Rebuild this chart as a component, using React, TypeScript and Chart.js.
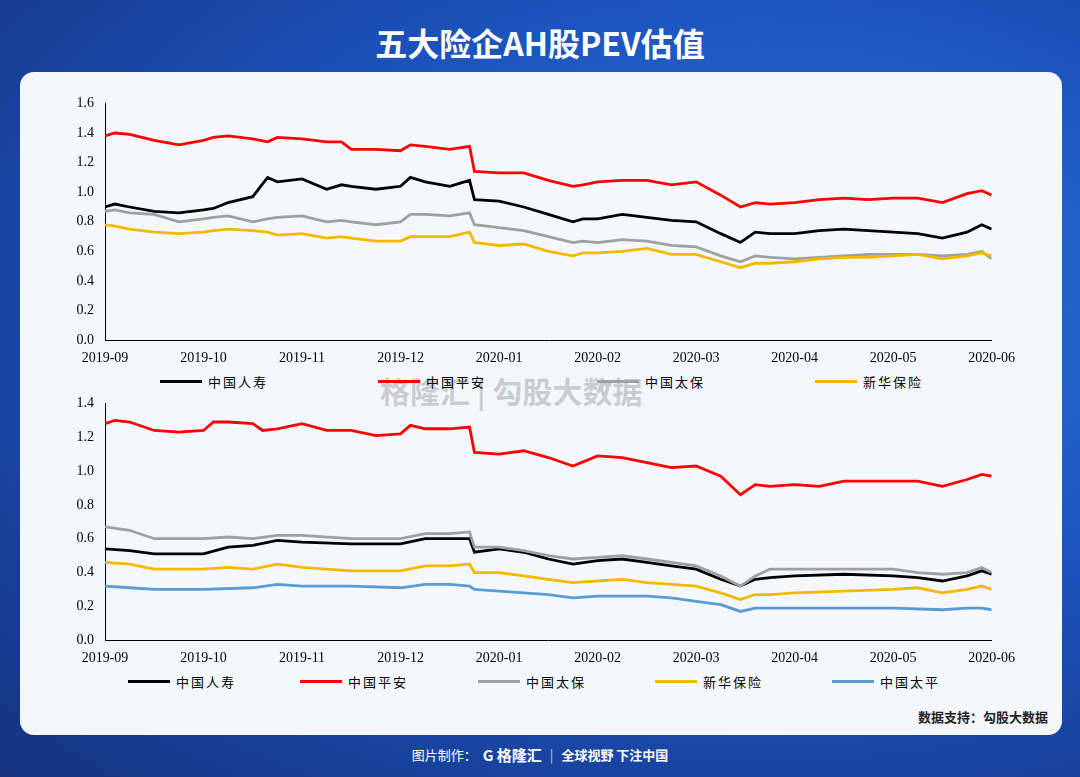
import React, { useEffect, useRef } from "react";
import { Chart, registerables } from "chart.js";
Chart.register(...registerables);

const monthLabels = ["2019-09","2019-10","2019-11","2019-12","2020-01","2020-02","2020-03","2020-04","2020-05","2020-06"];

const topPingAn = [[0,1.38],[0.1,1.4],[0.25,1.39],[0.5,1.35],[0.75,1.32],[1,1.35],[1.1,1.37],[1.25,1.38],[1.5,1.36],[1.65,1.34],[1.75,1.37],[2,1.36],[2.25,1.34],[2.4,1.34],[2.5,1.29],[2.75,1.29],[3,1.28],[3.1,1.32],[3.25,1.31],[3.5,1.29],[3.7,1.31],[3.75,1.14],[4,1.13],[4.25,1.13],[4.5,1.08],[4.75,1.04],[4.85,1.05],[5,1.07],[5.25,1.08],[5.5,1.08],[5.75,1.05],[6,1.07],[6.25,0.98],[6.45,0.9],[6.6,0.93],[6.75,0.92],[7,0.93],[7.25,0.95],[7.5,0.96],[7.75,0.95],[8,0.96],[8.25,0.96],[8.5,0.93],[8.75,0.99],[8.9,1.01],[9,0.98]];
const topLife = [[0,0.9],[0.1,0.92],[0.25,0.9],[0.5,0.87],[0.75,0.86],[1,0.88],[1.1,0.89],[1.25,0.93],[1.5,0.97],[1.65,1.1],[1.75,1.07],[2,1.09],[2.25,1.02],[2.4,1.05],[2.5,1.04],[2.75,1.02],[3,1.04],[3.1,1.1],[3.25,1.07],[3.5,1.04],[3.7,1.08],[3.75,0.95],[4,0.94],[4.25,0.9],[4.5,0.85],[4.75,0.8],[4.85,0.82],[5,0.82],[5.25,0.85],[5.5,0.83],[5.75,0.81],[6,0.8],[6.25,0.72],[6.45,0.66],[6.6,0.73],[6.75,0.72],[7,0.72],[7.25,0.74],[7.5,0.75],[7.75,0.74],[8,0.73],[8.25,0.72],[8.5,0.69],[8.75,0.73],[8.9,0.78],[9,0.75]];
const topCpic = [[0,0.87],[0.1,0.88],[0.25,0.86],[0.5,0.85],[0.75,0.8],[1,0.82],[1.1,0.83],[1.25,0.84],[1.5,0.8],[1.65,0.82],[1.75,0.83],[2,0.84],[2.25,0.8],[2.4,0.81],[2.5,0.8],[2.75,0.78],[3,0.8],[3.1,0.85],[3.25,0.85],[3.5,0.84],[3.7,0.86],[3.75,0.78],[4,0.76],[4.25,0.74],[4.5,0.7],[4.75,0.66],[4.85,0.67],[5,0.66],[5.25,0.68],[5.5,0.67],[5.75,0.64],[6,0.63],[6.25,0.57],[6.45,0.53],[6.6,0.57],[6.75,0.56],[7,0.55],[7.25,0.56],[7.5,0.57],[7.75,0.58],[8,0.58],[8.25,0.58],[8.5,0.57],[8.75,0.58],[8.9,0.6],[9,0.55]];
const topNci = [[0,0.78],[0.1,0.77],[0.25,0.75],[0.5,0.73],[0.75,0.72],[1,0.73],[1.1,0.74],[1.25,0.75],[1.5,0.74],[1.65,0.73],[1.75,0.71],[2,0.72],[2.25,0.69],[2.4,0.7],[2.5,0.69],[2.75,0.67],[3,0.67],[3.1,0.7],[3.25,0.7],[3.5,0.7],[3.7,0.73],[3.75,0.66],[4,0.64],[4.25,0.65],[4.5,0.6],[4.75,0.57],[4.85,0.59],[5,0.59],[5.25,0.6],[5.5,0.62],[5.75,0.58],[6,0.58],[6.25,0.53],[6.45,0.49],[6.6,0.52],[6.75,0.52],[7,0.53],[7.25,0.55],[7.5,0.56],[7.75,0.56],[8,0.57],[8.25,0.58],[8.5,0.55],[8.75,0.57],[8.9,0.59],[9,0.57]];

const botPingAn = [[0,1.28],[0.1,1.3],[0.25,1.29],[0.5,1.24],[0.75,1.23],[1,1.24],[1.1,1.29],[1.25,1.29],[1.5,1.28],[1.6,1.24],[1.75,1.25],[2,1.28],[2.25,1.24],[2.5,1.24],[2.75,1.21],[3,1.22],[3.1,1.27],[3.25,1.25],[3.5,1.25],[3.7,1.26],[3.75,1.11],[4,1.1],[4.25,1.12],[4.5,1.08],[4.75,1.03],[5,1.09],[5.25,1.08],[5.5,1.05],[5.75,1.02],[6,1.03],[6.25,0.97],[6.45,0.86],[6.6,0.92],[6.75,0.91],[7,0.92],[7.25,0.91],[7.5,0.94],[7.75,0.94],[8,0.94],[8.25,0.94],[8.5,0.91],[8.75,0.95],[8.9,0.98],[9,0.97]];
const botCpic = [[0,0.67],[0.25,0.65],[0.5,0.6],[1,0.6],[1.25,0.61],[1.5,0.6],[1.75,0.62],[2,0.62],[2.5,0.6],[3,0.6],[3.25,0.63],[3.5,0.63],[3.7,0.64],[3.75,0.55],[4,0.55],[4.25,0.53],[4.5,0.5],[4.75,0.48],[5,0.49],[5.25,0.5],[5.5,0.48],[5.75,0.46],[6,0.44],[6.25,0.38],[6.45,0.32],[6.6,0.38],[6.75,0.42],[7,0.42],[7.5,0.42],[8,0.42],[8.25,0.4],[8.5,0.39],[8.75,0.4],[8.9,0.43],[9,0.4]];
const botLife = [[0,0.54],[0.25,0.53],[0.5,0.51],[1,0.51],[1.25,0.55],[1.5,0.56],[1.75,0.59],[2,0.58],[2.5,0.57],[3,0.57],[3.25,0.6],[3.5,0.6],[3.7,0.6],[3.75,0.52],[4,0.54],[4.25,0.52],[4.5,0.48],[4.75,0.45],[5,0.47],[5.25,0.48],[5.5,0.46],[5.75,0.44],[6,0.42],[6.25,0.36],[6.45,0.32],[6.6,0.36],[6.75,0.37],[7,0.38],[7.5,0.39],[8,0.38],[8.25,0.37],[8.5,0.35],[8.75,0.38],[8.9,0.41],[9,0.39]];
const botNci = [[0,0.46],[0.25,0.45],[0.5,0.42],[1,0.42],[1.25,0.43],[1.5,0.42],[1.75,0.45],[2,0.43],[2.5,0.41],[3,0.41],[3.25,0.44],[3.5,0.44],[3.7,0.45],[3.75,0.4],[4,0.4],[4.25,0.38],[4.5,0.36],[4.75,0.34],[5,0.35],[5.25,0.36],[5.5,0.34],[5.75,0.33],[6,0.32],[6.25,0.28],[6.45,0.24],[6.6,0.27],[6.75,0.27],[7,0.28],[7.5,0.29],[8,0.3],[8.25,0.31],[8.5,0.28],[8.75,0.3],[8.9,0.32],[9,0.3]];
const botTaiping = [[0,0.32],[0.25,0.31],[0.5,0.3],[1,0.3],[1.5,0.31],[1.75,0.33],[2,0.32],[2.5,0.32],[3,0.31],[3.25,0.33],[3.5,0.33],[3.7,0.32],[3.75,0.3],[4,0.29],[4.25,0.28],[4.5,0.27],[4.75,0.25],[5,0.26],[5.5,0.26],[5.75,0.25],[6,0.23],[6.25,0.21],[6.45,0.17],[6.6,0.19],[6.75,0.19],[7,0.19],[7.5,0.19],[8,0.19],[8.5,0.18],[8.75,0.19],[8.9,0.19],[9,0.18]];

const C = { life: "#000000", pingan: "#ff0000", cpic: "#a0a0a0", nci: "#f5b800", taiping: "#5b9bd5" };
const FONT = "'Liberation Serif', 'DejaVu Serif', serif";

function mk(pts: number[][], color: string) {
  return { data: pts.map(p => ({ x: p[0], y: p[1] })), borderColor: color, borderWidth: 2.8, pointRadius: 0, tension: 0, fill: false };
}

function LineChart({ sets, max, style }: { sets: any[]; max: number; style: React.CSSProperties }) {
  const ref = useRef<HTMLCanvasElement>(null);
  useEffect(() => {
    const ch = new Chart(ref.current!, {
      type: "line",
      data: { datasets: sets },
      options: {
        animation: false, responsive: false, maintainAspectRatio: false,
        layout: { padding: { top: 4, right: 0 } },
        plugins: { legend: { display: false }, tooltip: { enabled: false } },
        scales: {
          x: { type: "linear", min: 0, max: 9, grid: { display: false }, border: { color: "#000", width: 1 },
            ticks: { stepSize: 1, autoSkip: false, maxRotation: 0, color: "#000", font: { family: FONT, size: 14 }, padding: 2, callback: (v: any) => monthLabels[v] ?? "" } },
          y: { min: 0, max, grid: { display: false }, border: { color: "#000", width: 1 },
            afterFit: (s: any) => { s.width = 50; },
            ticks: { stepSize: 0.2, color: "#000", font: { family: FONT, size: 14 }, callback: (v: any) => Number(v).toFixed(1) } },
        },
      },
    } as any);
    return () => ch.destroy();
  }, []);
  return <canvas ref={ref} width={962} height={style.height as number} style={{ position: "absolute", ...style }} />;
}

function Legend({ items, top }: { items: [string, string, number][]; top: number }) {
  return <>{items.map(([t, c, x]) => (
    <div key={t} style={{ position: "absolute", left: x, top, display: "flex", alignItems: "center", fontFamily: "'Noto Sans CJK SC', sans-serif", fontSize: 13, color: "#000", letterSpacing: 2 }}>
      <span style={{ display: "inline-block", width: 42, height: 3, background: c, marginRight: 6 }} />{t}
    </div>))}</>;
}

export default function App() {
  return (
    <div style={{ position: "absolute", left: 0, top: 0, width: 1080, height: 777, overflow: "hidden",
      background: "radial-gradient(ellipse at 70% 40%, #2f7ae0 0%, #1d55c0 45%, #14327e 100%)" }}>
      <div style={{ position: "absolute", top: 18, width: 1080, textAlign: "center", color: "#fff", fontSize: 32, fontWeight: 700, fontFamily: "'Noto Sans CJK SC', sans-serif", lineHeight: "48px" }}>五大险企AH股PEV估值</div>
      <div style={{ position: "absolute", left: 20, top: 72, width: 1042, height: 663, background: "#f4f8fc", borderRadius: 14 }} />
      <div style={{ position: "absolute", left: 380, top: 368, fontSize: 30, color: "rgba(120,120,130,0.35)", fontFamily: "'Noto Sans CJK SC', sans-serif", fontWeight: 700 }}>格隆汇 | 勾股大数据</div>
      <LineChart sets={[mk(topNci, C.nci), mk(topCpic, C.cpic), mk(topLife, C.life), mk(topPingAn, C.pingan)]} max={1.6} style={{ left: 55, top: 92, width: 962, height: 277 }} />
      <Legend top={372} items={[["中国人寿", C.life, 160], ["中国平安", C.pingan, 378], ["中国太保", C.cpic, 597], ["新华保险", C.nci, 815]]} />
      <LineChart sets={[mk(botTaiping, C.taiping), mk(botNci, C.nci), mk(botCpic, C.cpic), mk(botLife, C.life), mk(botPingAn, C.pingan)]} max={1.4} style={{ left: 55, top: 392, width: 962, height: 277 }} />
      <Legend top={672} items={[["中国人寿", C.life, 128], ["中国平安", C.pingan, 300], ["中国太保", C.cpic, 478], ["新华保险", C.nci, 655], ["中国太平", C.taiping, 832]]} />
      <div style={{ position: "absolute", right: 32, top: 707, fontSize: 13, fontFamily: "'Noto Sans CJK SC', sans-serif", fontWeight: 700, color: "#222" }}>数据支持：勾股大数据</div>
      <div style={{ position: "absolute", top: 744, width: 1080, display: "flex", justifyContent: "center", alignItems: "center", color: "#fff", fontFamily: "'Noto Sans CJK SC', sans-serif", fontSize: 13 }}>
        <span>图片制作：</span>
        <span style={{ fontWeight: 700, fontSize: 15, marginLeft: 6 }}>G 格隆汇</span>
        <span style={{ margin: "0 8px", opacity: 0.7 }}>|</span>
        <span style={{ fontWeight: 700 }}>全球视野 下注中国</span>
      </div>
    </div>
  );
}
